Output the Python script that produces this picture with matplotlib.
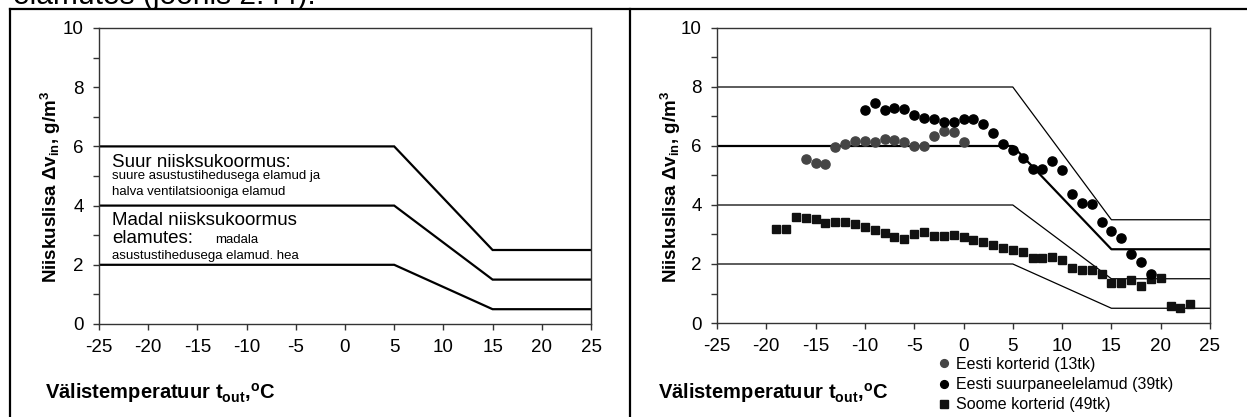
import matplotlib
matplotlib.use('Agg')
import matplotlib.pyplot as plt
from matplotlib.lines import Line2D
from matplotlib.transforms import Bbox, TransformedBbox

plt.rcParams['font.family'] = ['Liberation Sans', 'DejaVu Sans']
plt.rcParams['mathtext.fontset'] = 'custom'
plt.rcParams['mathtext.rm'] = 'Liberation Sans'
plt.rcParams['mathtext.bf'] = 'Liberation Sans:bold'
plt.rcParams['mathtext.it'] = 'Liberation Sans:italic'

# ---------------- data ----------------
limit_t = [-25, 5, 15, 25]
limit_upper = [8, 8, 3.5, 3.5]
limit_high = [6, 6, 2.5, 2.5]
limit_low = [4, 4, 1.5, 1.5]
limit_base = [2, 2, 0.5, 0.5]

ee_flat_t = [-16, -15, -14, -13, -12, -11, -10, -9, -8, -7, -6, -5, -4, -3, -2, -1, 0]
ee_flat_v = [5.57, 5.44, 5.40, 5.98, 6.06, 6.17, 6.17, 6.12, 6.23, 6.19, 6.15, 6.01,
             5.99, 6.34, 6.51, 6.47, 6.13]

ee_panel_t = [-10, -9, -8, -7, -6, -5, -4, -3, -2, -1, 0, 1, 2, 3, 4, 5, 6, 7, 8, 9,
              10, 11, 12, 13, 14, 15, 16, 17, 18, 19]
ee_panel_v = [7.21, 7.47, 7.23, 7.28, 7.24, 7.06, 6.95, 6.90, 6.81, 6.82, 6.92, 6.92,
              6.74, 6.43, 6.06, 5.87, 5.58, 5.21, 5.21, 5.49, 5.18, 4.38, 4.08, 4.05,
              3.44, 3.11, 2.89, 2.33, 2.08, 1.66]

fi_flat_t = [-19, -18, -17, -16, -15, -14, -13, -12, -11, -10, -9, -8, -7, -6, -5, -4,
             -3, -2, -1, 0, 1, 2, 3, 4, 5, 6, 7, 8, 9, 10, 11, 12, 13, 14, 15, 16, 17,
             18, 19, 20, 21, 22, 23]
fi_flat_v = [3.20, 3.18, 3.60, 3.56, 3.51, 3.39, 3.44, 3.42, 3.34, 3.26, 3.14, 3.04,
             2.92, 2.84, 3.01, 3.09, 2.96, 2.96, 2.99, 2.91, 2.81, 2.75, 2.63, 2.54,
             2.47, 2.42, 2.20, 2.22, 2.25, 2.15, 1.88, 1.79, 1.81, 1.66, 1.35, 1.35,
             1.46, 1.26, 1.48, 1.51, 0.57, 0.50, 0.63]

legend_labels = ['Eesti korterid (13tk)', 'Eesti suurpaneelelamud (39tk)',
                 'Soome korterid (49tk)']

x_ticks = [-25, -20, -15, -10, -5, 0, 5, 10, 15, 20, 25]
y_ticks = [0, 2, 4, 6, 8, 10]
y_minor = [1, 3, 5, 7, 9]

xlabel = r"Välistemperatuur t$_\mathbf{out}$,$^\mathbf{o}$C"
ylabel = r"Niiskuslisa Δv$_\mathbf{in}$, g/m$^\mathbf{3}$"

# ---------------- figure ----------------
W, H = 1247, 417
fig = plt.figure(figsize=(W / 100, H / 100), dpi=100)


def px_axes(l, r, t, b):
    return fig.add_axes([l / W, 1 - b / H, (r - l) / W, (b - t) / H])


def style(ax):
    ax.set_xlim(-25, 25)
    ax.set_ylim(0, 10)
    ax.set_xticks(x_ticks)
    ax.set_xticklabels([str(v) for v in x_ticks])
    ax.set_yticks(y_ticks)
    ax.set_yticks(y_minor, minor=True)
    for s in ax.spines.values():
        s.set_color('#333333')
        s.set_linewidth(1.0)
    ax.tick_params(axis='both', which='major', direction='out', length=4, width=1.0,
                   color='#333333', labelsize=13.5, pad=7)
    ax.tick_params(axis='y', which='minor', direction='out', length=4, width=1.0,
                   color='#333333')
    ax.tick_params(axis='x', which='minor', bottom=False)


ax1 = px_axes(99, 591, 28, 324)
ax2 = px_axes(717, 1210, 28, 323)
style(ax1)
style(ax2)

# left panel lines
for v in (limit_high, limit_low, limit_base):
    ax1.plot(limit_t, v, color='black', lw=1.6, solid_joinstyle='miter')

# left panel annotations
big = 13.5
small = 9.5
ax1.text(-23.7, 5.30, 'Suur niisksukoormus:', fontsize=big, va='baseline')
ax1.text(-23.7, 4.90, 'suure asustustihedusega elamud ja', fontsize=small, va='baseline')
ax1.text(-23.7, 4.36, 'halva ventilatsiooniga elamud', fontsize=small, va='baseline')
ax1.text(-23.7, 3.34, 'Madal niisksukoormus', fontsize=big, va='baseline')
ax1.text(-23.7, 2.74, 'elamutes:', fontsize=big, va='baseline')
ax1.text(-13.2, 2.74, 'madala', fontsize=small, va='baseline')
t_cut = ax1.text(-23.7, 2.21, 'asustustihedusega elamud. hea', fontsize=small,
                 va='baseline')
t_cut.set_clip_box(TransformedBbox(Bbox([[-25, 2.09], [25, 10]]), ax1.transData))
t_cut.set_clip_on(True)

# right panel lines
ax2.plot(limit_t, limit_upper, color='black', lw=0.9)
ax2.plot(limit_t, limit_high, color='black', lw=1.6)
ax2.plot(limit_t, limit_low, color='black', lw=0.9)
ax2.plot(limit_t, limit_base, color='black', lw=0.9)

# right panel points
h1, = ax2.plot(ee_flat_t, ee_flat_v, 'o', color='#454545', ms=6.6, mec='#454545',
               zorder=3, label=legend_labels[0])
h2, = ax2.plot(ee_panel_t, ee_panel_v, 'o', color='black', ms=6.6, zorder=4,
               label=legend_labels[1])
h3, = ax2.plot(fi_flat_t, fi_flat_v, 's', color='#111111', ms=6.0, zorder=3,
               label=legend_labels[2])

leg = ax2.legend(handles=[h1, h2, h3], labels=legend_labels, loc='upper left',
                 bbox_to_anchor=(938 / W, 1 - 357 / H), bbox_transform=fig.transFigure,
                 frameon=False, fontsize=11.5, handlelength=0.75, handletextpad=0.4,
                 labelspacing=0.32, borderpad=0, borderaxespad=0, markerscale=0.85)

# axis labels
for xl, yl in ((45, 51), (658, 671)):
    fig.text(xl / W, 1 - 393 / H, xlabel, fontsize=14.5, fontweight='bold',
             ha='left', va='center')
    fig.text(yl / W, 1 - 187 / H, ylabel, fontsize=13.5, fontweight='bold',
             rotation=90, ha='center', va='center')

# cut-off caption text at the very top (only its lower part is visible)
fig.text(13 / W, 1 - 4 / H, 'elamutes (joonis 2.44).', fontsize=21.5, ha='left',
         va='baseline')

# outer frame
fig.add_artist(Line2D([10 / W, 1], [1 - 9 / H, 1 - 9 / H], transform=fig.transFigure,
                      color='black', lw=1.6))
fig.add_artist(Line2D([10 / W, 10 / W], [0, 1 - 9 / H], transform=fig.transFigure,
                      color='black', lw=1.6))
fig.add_artist(Line2D([630 / W, 630 / W], [0, 1 - 9 / H], transform=fig.transFigure,
                      color='black', lw=1.6))

fig.savefig('out.png', dpi=100)
